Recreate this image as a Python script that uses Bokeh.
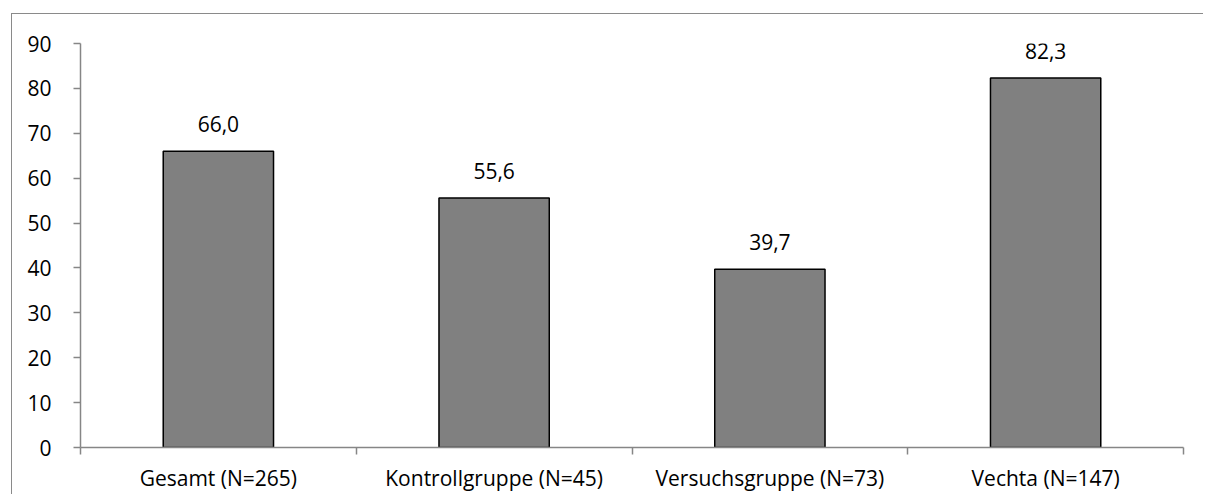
from bokeh.plotting import figure
from bokeh.models import Range1d, FixedTicker, ColumnDataSource
from bokeh.core.properties import value
from bokeh.embed import file_html
from bokeh.resources import INLINE

categories = ["Gesamt (N=265)", "Kontrollgruppe (N=45)", "Versuchsgruppe (N=73)", "Vechta (N=147)"]
values = [66.0, 55.6, 39.7, 82.3]
y_ticks = [0, 10, 20, 30, 40, 50, 60, 70, 80, 90]

FONT = "Open Sans"
GRAY = "#868686"

centers = [i + 0.5 for i in range(len(categories))]
bounds = [float(i) for i in range(len(categories) + 1)]
labels = [f"{v:.1f}".replace(".", ",") for v in values]

src = ColumnDataSource(data=dict(x=centers, top=values, label=labels))

p = figure(
    x_range=Range1d(0, len(categories)),
    y_range=Range1d(y_ticks[0], y_ticks[-1]),
    frame_width=1103, frame_height=404,
    min_border_left=68, min_border_right=22, min_border_top=29, min_border_bottom=49,
    output_backend="svg", toolbar_location=None,
)
p.styles = {"margin-left": "11px", "margin-top": "13px",
            "border-left": "1px solid #8a8a8a", "border-top": "1px solid #8a8a8a",
            "clip-path": "inset(0px 2px 2px 0px)"}
p.outline_line_color = None
p.xgrid.visible = False
p.ygrid.visible = False
p.background_fill_color = "white"
p.border_fill_color = "white"

p.vbar(x="x", top="top", width=0.4, bottom=0, source=src,
       fill_color="#808080", line_color="black", line_width=1.5)
p.text(x="x", y="top", text="label", source=src, text_align="center",
       text_baseline="bottom", y_offset=-19, text_font=value(FONT),
       text_font_size="21px", text_color="black")

ya = p.yaxis[0]
ya.ticker = FixedTicker(ticks=y_ticks)
ya.axis_line_color = GRAY
ya.axis_line_width = 1.5
ya.major_tick_line_color = GRAY
ya.major_tick_line_width = 1.5
ya.major_tick_out = 7
ya.major_tick_in = 0
ya.minor_tick_line_color = None
ya.major_label_text_font = FONT
ya.major_label_text_font_size = "21px"
ya.major_label_text_color = "black"
ya.major_label_standoff = 22

xa = p.xaxis[0]
xa.ticker = FixedTicker(ticks=centers, minor_ticks=bounds)
xa.major_label_overrides = {c: lab for c, lab in zip(centers, categories)}
xa.axis_line_color = GRAY
xa.axis_line_width = 1.5
xa.major_tick_line_color = None
xa.major_tick_out = 0
xa.major_tick_in = 0
xa.minor_tick_line_color = GRAY
xa.minor_tick_line_width = 1.5
xa.minor_tick_out = 7
xa.minor_tick_in = 0
xa.major_label_text_font = FONT
xa.major_label_text_font_size = "21px"
xa.major_label_text_color = "black"
xa.major_label_standoff = 9

open("out.html", "w").write(file_html(p, INLINE))
